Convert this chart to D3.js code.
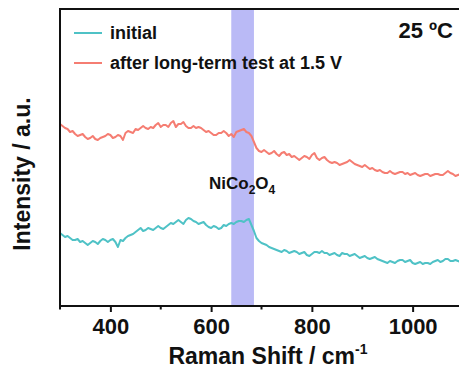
<!DOCTYPE html>
<html>
<head>
<meta charset="utf-8">
<script src="https://cdn.jsdelivr.net/npm/d3@7"></script>
<style>
  body { margin: 0; background: #fff; }
  svg { display: block; }
  text { font-family: "Liberation Sans", Arial, sans-serif; font-weight: bold; fill: #111; }
</style>
</head>
<body>
<div id="chart"></div>
<script>
// Raman shift sampled every 5 cm-1 from 300 to 1100
const shift = d3.range(300, 1101, 5);

// after long-term test at 1.5 V (a.u.)
const afterTest = [
  182,180,178,177,174,175,172,170,171,172,169,167,168,170,167,166,168,169,170,172,
  171,168,169,171,170,166,173,175,174,173,177,176,178,180,178,177,179,178,181,183,
  179,181,181,179,183,185,179,182,182,184,180,178,178,180,178,179,178,176,174,175,
  173,171,171,173,173,175,173,170,172,169,174,175,176,177,174,173,170,164,158,155,
  154,156,154,152,153,155,152,150,153,154,151,152,149,150,148,146,148,150,149,147,
  151,153,148,146,148,149,146,144,143,144,143,141,142,143,144,146,144,142,141,140,
  139,141,139,137,138,136,135,136,134,133,133,135,133,132,133,134,134,132,133,131,
  132,133,131,130,131,132,132,130,131,132,132,131,131,133,135,133,132,130,131,132,
  132
];

// initial (a.u.)
const initial = [
  73,71,69,70,68,66,66,67,64,65,63,61,63,65,64,62,65,67,66,64,
  66,67,64,59,66,65,68,70,71,72,74,76,78,75,76,78,77,76,78,80,
  78,77,79,81,83,82,84,86,84,82,86,88,87,85,84,82,83,84,81,79,
  78,80,79,77,78,81,80,82,83,82,84,85,85,84,86,87,81,75,68,65,
  63,62,61,59,58,57,56,55,54,56,55,53,54,55,54,52,53,54,51,50,
  52,54,54,53,55,53,53,51,52,53,51,50,53,52,52,50,51,52,50,48,
  49,50,48,47,48,49,47,46,45,44,43,45,44,43,45,46,46,44,45,46,
  43,42,43,44,42,43,43,42,44,45,46,44,45,47,47,45,45,46,45,44,
  46
];

const xTicks = [400, 600, 800, 1000];
const xMinorTicks = [300, 500, 700, 900, 1100];
const band = [640, 685];

const seriesList = [
  { name: "initial", values: initial, color: "#4fc2c6" },
  { name: "after long-term test at 1.5 V", values: afterTest, color: "#f57d72" }
];

const width = 459, height = 372;
const margin = { top: 9, right: -4, bottom: 66, left: 60 };

const svg = d3.select("#chart").append("svg")
  .attr("width", width)
  .attr("height", height);

const x = d3.scaleLinear()
  .domain([300, 1100])
  .range([margin.left, width - margin.right]);

const y = d3.scaleLinear()
  .domain([0, 297])
  .range([height - margin.bottom, margin.top]);

svg.append("clipPath").attr("id", "plot")
  .append("rect")
  .attr("x", margin.left).attr("y", margin.top)
  .attr("width", width - margin.left).attr("height", y(0) - margin.top);

const plot = svg.append("g").attr("clip-path", "url(#plot)");

// highlighted NiCo2O4 region
plot.append("rect")
  .attr("x", x(band[0]))
  .attr("y", margin.top)
  .attr("width", x(band[1]) - x(band[0]))
  .attr("height", y(0) - margin.top)
  .attr("fill", "#babaf6");

const line = d3.line()
  .x((d, i) => x(shift[i]))
  .y(d => y(d));

plot.selectAll(".spectrum")
  .data(seriesList)
  .join("path")
    .attr("class", "spectrum")
    .attr("d", d => line(d.values))
    .attr("fill", "none")
    .attr("stroke", d => d.color)
    .attr("stroke-width", 2)
    .attr("stroke-linejoin", "round");

// frame: left, top, bottom
svg.append("path")
  .attr("d", `M${width + 5},${margin.top}H${margin.left}V${y(0)}H${width + 5}`)
  .attr("fill", "none")
  .attr("stroke", "#111")
  .attr("stroke-width", 2);

// bottom axis
const xAxis = svg.append("g")
  .attr("transform", `translate(0,${y(0)})`)
  .call(d3.axisBottom(x).tickValues(xTicks).tickSize(6).tickPadding(6).tickFormat(d3.format("d")));
xAxis.select(".domain").remove();
xAxis.selectAll(".tick line").attr("stroke", "#111").attr("stroke-width", 2);
xAxis.selectAll(".tick text")
  .style("font-size", "22px")
  .style("font-family", "'Liberation Sans', Arial, sans-serif")
  .attr("fill", "#111");

svg.append("g")
  .attr("transform", `translate(0,${y(0)})`)
  .selectAll("line")
  .data(xMinorTicks)
  .join("line")
    .attr("x1", d => x(d)).attr("x2", d => x(d))
    .attr("y1", 0).attr("y2", 3.5)
    .attr("stroke", "#111").attr("stroke-width", 2);

// axis titles
const xTitle = svg.append("text")
  .attr("x", 268).attr("y", 364)
  .attr("text-anchor", "middle")
  .style("font-size", "23px");
xTitle.append("tspan").text("Raman Shift / cm");
xTitle.append("tspan").attr("dy", -10).style("font-size", "14px").text("-1");

svg.append("text")
  .attr("transform", "translate(30,174) rotate(-90)")
  .attr("text-anchor", "middle")
  .style("font-size", "23px")
  .text("Intensity / a.u.");

// legend
const legend = svg.append("g");
seriesList.forEach((s, i) => {
  const ly = 33 + i * 30;
  legend.append("line")
    .attr("x1", 74).attr("x2", 102)
    .attr("y1", ly).attr("y2", ly)
    .attr("stroke", s.color).attr("stroke-width", 2);
  legend.append("text")
    .attr("x", 110).attr("y", ly + 6)
    .style("font-size", "18px")
    .text(s.name);
});

// temperature label
svg.append("text")
  .attr("x", 453).attr("y", 38)
  .attr("text-anchor", "end")
  .style("font-size", "22px")
  .text("25 ºC");

// peak label
const peak = svg.append("text")
  .attr("x", 209).attr("y", 189)
  .style("font-size", "17px");
peak.append("tspan").text("NiCo");
peak.append("tspan").attr("dy", 5).style("font-size", "12px").text("2");
peak.append("tspan").attr("dy", -5).text("O");
peak.append("tspan").attr("dy", 5).style("font-size", "12px").text("4");
</script>
</body>
</html>
